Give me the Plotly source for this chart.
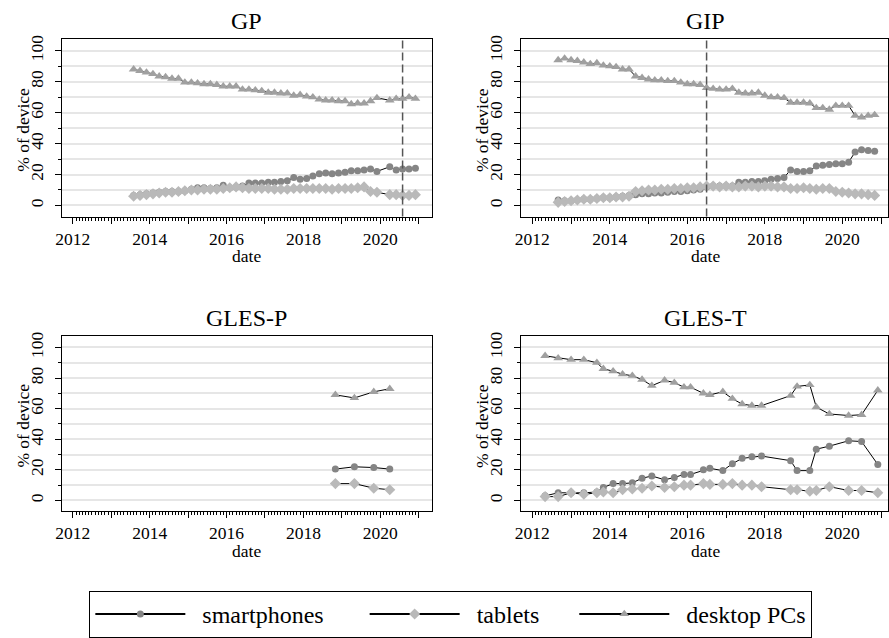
import plotly.graph_objects as go

W, H = 889, 638
FONT = "Liberation Serif"

SERIES = ["smartphones", "tablets", "desktop PCs"]
COLOURS = {"smartphones": "#858585", "tablets": "#b9b9b9", "desktop PCs": "#a0a0a0"}
SYMBOLS = {"smartphones": "circle", "tablets": "diamond", "desktop PCs": "triangle-up"}
SIZES = {"smartphones": 7, "tablets": 8.5, "desktop PCs": 8.5}
# padding (nbsp) around legend labels to space the entries like the original
LEGEND_LABELS = {
    "smartphones": "\u00a0\u00a0smartphones" + "\u00a0" * 6,
    "tablets": "\u00a0\u00a0tablets" + "\u00a0" * 5,
    "desktop PCs": "\u00a0\u00a0desktop PCs",
}

# GP: bimonthly waves (Feb 2020 missing)
GP_WAVES = [
    "2013-08", "2013-10", "2013-12",
    "2014-02", "2014-04", "2014-06", "2014-08", "2014-10", "2014-12",
    "2015-02", "2015-04", "2015-06", "2015-08", "2015-10", "2015-12",
    "2016-02", "2016-04", "2016-06", "2016-08", "2016-10", "2016-12",
    "2017-02", "2017-04", "2017-06", "2017-08", "2017-10", "2017-12",
    "2018-02", "2018-04", "2018-06", "2018-08", "2018-10", "2018-12",
    "2019-02", "2019-04", "2019-06", "2019-08", "2019-10", "2019-12",
    "2020-04", "2020-06", "2020-08", "2020-10", "2020-12",
]
GP_SMARTPHONES = [
    6.5, 7, 7.5, 8, 8.5, 9, 9, 9, 9.5, 10.5, 11.5, 11.5, 11, 11.5, 13, 11.5,
    12, 12.5, 14.5, 14.5, 14.5, 15, 15, 15.5, 16, 18, 17, 17.5, 19, 20.5, 21,
    20.5, 21, 21.5, 22.5, 22.5, 23, 23.5, 22, 25, 23, 23.5, 23.5, 24,
]
GP_TABLETS = [
    6, 6.5, 7, 7.5, 8, 8.5, 8.5, 9, 9.5, 10, 10, 10.5, 10.5, 10.5, 11, 11.5,
    12, 11.5, 11, 11, 11, 11, 10.5, 10.5, 10.5, 11, 11, 11, 11, 11, 11, 10.5,
    11, 11, 11, 11.5, 12, 9, 8.5, 7, 7, 6.5, 6.5, 7,
]
GP_DESKTOP = [
    88, 87, 86, 85, 83.5, 83, 82, 82, 79.5, 79.5, 79, 78.5, 78.5, 78, 77, 77,
    77, 75, 75, 74.5, 74, 73, 73, 72.5, 72.5, 71, 71.5, 70.5, 70, 68.5, 68,
    68, 67.5, 67.5, 65.5, 66, 66, 67.5, 69.5, 68, 69, 69, 70, 69,
]

# GIP: bimonthly waves
GIP_WAVES = [
    "2012-09", "2012-11",
    "2013-01", "2013-03", "2013-05", "2013-07", "2013-09", "2013-11",
    "2014-01", "2014-03", "2014-05", "2014-07", "2014-09", "2014-11",
    "2015-01", "2015-03", "2015-05", "2015-07", "2015-09", "2015-11",
    "2016-01", "2016-03", "2016-05", "2016-07", "2016-09", "2016-11",
    "2017-01", "2017-03", "2017-05", "2017-07", "2017-09", "2017-11",
    "2018-01", "2018-03", "2018-05", "2018-07", "2018-09", "2018-11",
    "2019-01", "2019-03", "2019-05", "2019-07", "2019-09", "2019-11",
    "2020-01", "2020-03", "2020-05", "2020-07", "2020-09", "2020-11",
]
GIP_SMARTPHONES = [
    3.5, 3, 3, 3.5, 4, 4, 4.5, 5, 5, 5.5, 6, 6.5, 7, 7.5, 7.5, 8, 8, 8.5, 9,
    9, 9.5, 10, 10.5, 12, 12.5, 12.5, 12.5, 12.5, 15, 15, 15.5, 15.5, 16, 17,
    17.5, 18, 23, 22, 22, 22.5, 25.5, 26, 26.5, 27, 27, 28, 34.5, 36, 35.5, 35,
]
GIP_TABLETS = [
    2, 2.5, 3, 3.5, 4, 4, 4.5, 5, 5, 5.5, 5.5, 6, 9, 9.5, 10, 10, 10.5, 10.5,
    11, 11, 11.5, 11.5, 12, 12.5, 12.5, 12, 12.5, 12, 12, 12.5, 12.5, 12, 12.5,
    12.5, 12, 12, 11, 11, 11.5, 11, 10.5, 11, 11, 9, 8.5, 8, 7.5, 7.5, 7, 6.5,
]
GIP_DESKTOP = [
    94, 95, 94, 93.5, 92.5, 91.5, 92, 90.5, 90, 89.5, 88, 88, 83.5, 82.5, 81.5,
    81, 81, 80.5, 80.5, 79.5, 78.5, 78.5, 78, 76, 75.5, 75, 75, 75.5, 73, 72.5,
    72.5, 73, 71, 70, 70, 69.5, 66.5, 66.5, 66.5, 66, 63, 63, 62, 64.5, 64.5,
    64.5, 58, 57, 58, 58.5,
]

GLESP_WAVES = ["2018-11", "2019-05", "2019-11", "2020-04"]
GLESP_SMARTPHONES = [20.5, 22, 21.5, 20.5]
GLESP_TABLETS = [11, 11, 8, 7]
GLESP_DESKTOP = [69, 67, 71, 73]

GLEST_WAVES = [
    "2012-05", "2012-09", "2013-01", "2013-05", "2013-09", "2013-11",
    "2014-02", "2014-05", "2014-08", "2014-11", "2015-02", "2015-06",
    "2015-09", "2015-12", "2016-02", "2016-06", "2016-08", "2016-12",
    "2017-03", "2017-06", "2017-09", "2017-12", "2018-09", "2018-11",
    "2019-03", "2019-05", "2019-09", "2020-03", "2020-07", "2020-12",
]
GLEST_SMARTPHONES = [
    3, 5, 5, 5, 5.5, 8.5, 11, 11, 11.5, 14.5, 16, 13.5, 15, 17, 17, 20, 21,
    19.5, 24, 27.5, 28.5, 29, 26, 19.5, 19.5, 33.5, 35.5, 39, 38.5, 23.5,
]
GLEST_TABLETS = [
    2.5, 2.5, 5, 4, 5, 5.5, 5, 7, 7.5, 8, 9.5, 8.5, 9, 10, 10, 11, 10.5, 10.5,
    11, 10, 10, 9, 7, 7, 6, 6.5, 9, 6.5, 6.5, 5,
]
GLEST_DESKTOP = [
    94.5, 93, 92, 92, 90, 86, 84.5, 82.5, 81.5, 79, 75, 78.5, 77, 74, 74, 70,
    69, 71, 66.5, 63, 62, 62, 68.5, 74.5, 75.5, 61, 56.5, 55.5, 56, 72,
]

# panel boxes in pixels: (left, right, top, bottom); right column runs off the page edge
PANELS = [
    ("GP", GP_WAVES, [GP_SMARTPHONES, GP_TABLETS, GP_DESKTOP], "2020-08-01", (56, 429, 35, 216)),
    ("GIP", GIP_WAVES, [GIP_SMARTPHONES, GIP_TABLETS, GIP_DESKTOP], "2016-07-01", (519, 892, 35, 216)),
    ("GLES-P", GLESP_WAVES, [GLESP_SMARTPHONES, GLESP_TABLETS, GLESP_DESKTOP], None, (56, 429, 338, 517)),
    ("GLES-T", GLEST_WAVES, [GLEST_SMARTPHONES, GLEST_TABLETS, GLEST_DESKTOP], None, (519, 892, 338, 517)),
]
X_START, X_END = "2011-09-16", "2021-05-04"

YEARS = list(range(2012, 2022))
MONTH_TICKS = [f"{y}-{m:02d}-01" for y in range(2012, 2021) for m in range(2, 13)]

fig = go.Figure()
layout: dict = {}
shapes = []
annotations = []


def label(text, x, y, size, angle=0):
    return dict(
        text=text, x=x / W, y=1 - y / H, xref="paper", yref="paper",
        xanchor="center", yanchor="middle", showarrow=False, textangle=angle,
        font=dict(family=FONT, size=size, color="black"),
    )


for i, (title, waves, values, vline, (left, right, top, bottom)) in enumerate(PANELS, start=1):
    suffix = "" if i == 1 else str(i)
    for name, vals in zip(SERIES, values):
        fig.add_trace(go.Scatter(
            x=waves,
            y=vals,
            mode="lines+markers",
            name=name,
            showlegend=False,
            line=dict(color="black", width=1),
            marker=dict(symbol=SYMBOLS[name], size=SIZES[name], color=COLOURS[name]),
            xaxis=f"x{suffix}",
            yaxis=f"y{suffix}",
            hovertemplate=f"{title} {name}: %{{y}}%<extra></extra>",
        ))

    # clip the right column at the page edge but keep the same date scale
    x_end = X_END
    if right > W:
        x_end = "2021-03-07"
        right = W
    mid_x = (left + right) / 2 if right < W else (left + 892) / 2

    layout[f"xaxis{suffix}"] = dict(
        domain=[left / W, right / W],
        anchor=f"y{suffix}",
        type="date",
        range=[X_START, x_end],
        tickvals=[f"{y}-01-01" for y in YEARS],
        ticktext=[str(y) if y % 2 == 0 else "" for y in YEARS],
        ticks="outside",
        ticklen=6,
        tickcolor="black",
        minor=dict(tickvals=MONTH_TICKS, ticks="outside", ticklen=3, tickcolor="black"),
        showgrid=False,
        zeroline=False,
        showline=True,
        mirror=True,
        linecolor="black",
        linewidth=1,
        tickfont=dict(family=FONT, size=17.5),
    )
    layout[f"yaxis{suffix}"] = dict(
        domain=[1 - bottom / H, 1 - top / H],
        anchor=f"x{suffix}",
        range=[-7.2, 107.4],
        tickvals=[0, 20, 40, 60, 80, 100],
        tickangle=-90,
        ticks="outside",
        ticklen=6,
        tickcolor="black",
        ticklabelstandoff=5,
        showgrid=True,
        gridcolor="#e6e6e6",
        gridwidth=2,
        minor=dict(tickvals=[10, 30, 50, 70, 90], ticks="outside", ticklen=3,
                   tickcolor="black", showgrid=True, gridcolor="#e6e6e6", gridwidth=2),
        zeroline=False,
        showline=True,
        mirror=True,
        linecolor="black",
        linewidth=1,
        tickfont=dict(family=FONT, size=17.5),
    )

    annotations.append(label(title, mid_x, top - 19, 24))
    annotations.append(label("date", mid_x, bottom + 40, 17.5))
    annotations.append(label("% of device", left - 39, (top + bottom) / 2 + 2, 17.5, -90))

    if vline:
        shapes.append(dict(
            type="line", xref=f"x{suffix}", yref=f"y{suffix} domain",
            x0=vline, x1=vline, y0=0, y1=1,
            line=dict(color="#555555", width=1.5, dash="8px,4px"),
        ))

# legend-only entries with the heavier key lines of the original
for name in SERIES:
    fig.add_trace(go.Scatter(
        x=[None], y=[None],
        mode="lines+markers",
        name=LEGEND_LABELS[name],
        line=dict(color="black", width=2),
        marker=dict(symbol=SYMBOLS[name], size=SIZES[name], color=COLOURS[name]),
        xaxis="x", yaxis="y",
    ))

fig.update_layout(
    **layout,
    shapes=shapes,
    annotations=annotations,
    width=W,
    height=H,
    margin=dict(l=0, r=0, t=0, b=0),
    paper_bgcolor="white",
    plot_bgcolor="white",
    font=dict(family=FONT, color="black", size=17.5),
    showlegend=True,
    legend=dict(
        orientation="h",
        x=84 / W,
        y=1 - 598 / H,
        xanchor="left",
        yanchor="top",
        bordercolor="black",
        borderwidth=1,
        font=dict(family=FONT, size=24, color="black"),
        itemwidth=90,
        tracegroupgap=0,
    ),
)

# page body has a default margin; drop it so the figure sits at the window origin
fig.write_html(
    "out.html",
    config={"displayModeBar": False},
    post_script="document.body.style.margin='0';document.body.style.overflow='hidden';",
)
